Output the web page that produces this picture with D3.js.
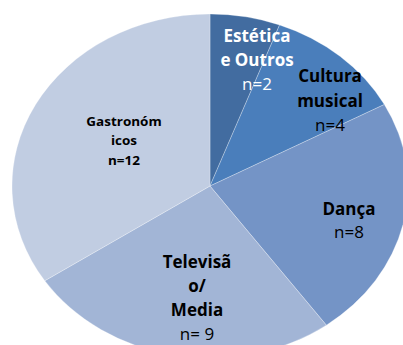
<!DOCTYPE html>
<html>
<head>
<meta charset="utf-8">
<script src="https://cdn.jsdelivr.net/npm/d3@7"></script>
<style>
  html, body { margin: 0; padding: 0; background: #fff; }
  svg { display: block; }
</style>
</head>
<body>
<svg id="chart" width="403" height="345"></svg>
<script>
// Pie data: categories (clockwise from 12 o'clock) and their counts
const categories = ["Estética e Outros", "Cultura musical", "Dança", "Televisão/Media", "Gastronómicos"];
const counts = [2, 4, 8, 9, 12];
// Wrapped label lines as printed inside each slice
const labelLines = [
  ["Estética", "e Outros"],
  ["Cultura", "musical"],
  ["Dança"],
  ["Televisã", "o/", "Media"],
  ["Gastronóm", "icos"]
];
const countLabels = ["n=2", "n=4", "n=8", "n= 9", "n=12"];
const sliceColors = ["#426ca0", "#4a7ebb", "#7494c6", "#a2b5d6", "#c1cde2"];

// Label placement: centre x, first baseline, line step, size, stretch, colour, count weight
const labelLayout = [
  { x: 257, y: 42,  step: 24,   size: 17,   sx: 1.0, fill: "#ffffff", nWeight: "normal" },
  { x: 330, y: 82,  step: 24.5, size: 17,   sx: 1.0, fill: "#000000", nWeight: "normal" },
  { x: 349, y: 215, step: 23,   size: 17,   sx: 1.0, fill: "#000000", nWeight: "normal" },
  { x: 197, y: 268, step: 24,   size: 17,   sx: 1.0, fill: "#000000", nWeight: "normal" },
  { x: 124, y: 126, step: 19.5, size: 12.5, sx: 1.08, fill: "#000000", nWeight: "bold" }
];

const svg = d3.select("#chart");
const cx = 210, cy = 186, rx = 198, ry = 172;

const data = categories.map((c, i) => ({ category: c, value: counts[i], i }));
const pie = d3.pie().value(d => d.value).sort(null).startAngle(0).endAngle(2 * Math.PI);
const arc = d3.arc().innerRadius(0).outerRadius(rx);
const color = d3.scaleOrdinal().domain(categories).range(sliceColors);

// Pie drawn as a circle, flattened vertically into an ellipse
const pieG = svg.append("g")
  .attr("transform", `translate(${cx},${cy}) scale(1,${ry / rx})`);

pieG.selectAll("path")
  .data(pie(data))
  .join("path")
  .attr("d", arc)
  .attr("fill", d => color(d.data.category))
  .attr("stroke", "rgba(255,255,255,0.35)")
  .attr("stroke-width", 0.8)
  .attr("vector-effect", "non-scaling-stroke");

// Slice labels
const labelG = svg.append("g")
  .attr("font-family", "'Open Sans', Lato, 'DejaVu Sans', sans-serif")
  .attr("text-anchor", "middle");

data.forEach((d, i) => {
  const L = labelLayout[i];
  const g = labelG.append("g")
    .attr("transform", `translate(${L.x},${L.y}) scale(${L.sx},1)`)
    .attr("fill", L.fill)
    .attr("font-size", L.size);
  labelLines[i].forEach((line, k) => {
    g.append("text")
      .attr("x", 0)
      .attr("y", k * L.step)
      .attr("font-weight", "bold")
      .text(line);
  });
  g.append("text")
    .attr("x", 0)
    .attr("y", labelLines[i].length * L.step)
    .attr("font-weight", L.nWeight)
    .text(countLabels[i]);
});
</script>
</body>
</html>
